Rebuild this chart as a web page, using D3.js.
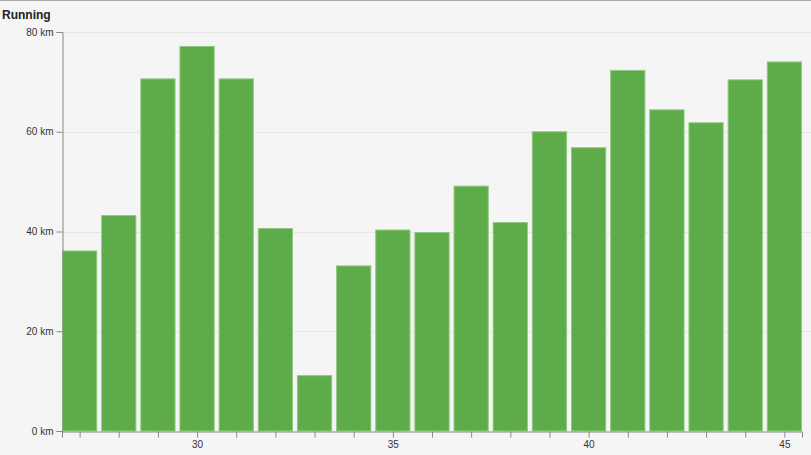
<!DOCTYPE html>
<html>
<head>
<meta charset="utf-8">
<script src="https://cdn.jsdelivr.net/npm/d3@7"></script>
<style>
  html, body { margin: 0; padding: 0; background: #f5f5f5; }
  svg { display: block; }
</style>
</head>
<body>
<script>
const weeks = [27,28,29,30,31,32,33,34,35,36,37,38,39,40,41,42,43,44,45];
const distances = [36.2,43.3,70.7,77.2,70.7,40.7,11.2,33.2,40.4,39.9,49.2,41.9,60.1,56.9,72.4,64.5,61.9,70.5,74.1];
const yTicks = [0,20,40,60,80];
const xLabelWeeks = [30,35,40,45];

(function () {
const W = 811, H = 455;
const svg = d3.select("body").append("svg").attr("width", W).attr("height", H);

svg.append("rect").attr("x",0).attr("y",0).attr("width",W).attr("height",H).attr("fill","#f5f5f5");
svg.append("line").attr("x1",0).attr("x2",W).attr("y1",0.5).attr("y2",0.5).attr("stroke","#aaa");

const mLeft = 62, mRight = 802, mTop = 32, mBottom = 431;
const x = d3.scaleLinear().domain([d3.min(weeks)-0.45, d3.max(weeks)+0.45]).range([mLeft, mRight]);
const y = d3.scaleLinear().domain([0, 80]).range([mBottom, mTop]);

// faint grid
svg.append("g").selectAll("line").data(yTicks.filter(d => d > 0)).join("line")
  .attr("x1", mLeft).attr("x2", W)
  .attr("y1", d => Math.round(y(d)) + 0.5).attr("y2", d => Math.round(y(d)) + 0.5)
  .attr("stroke", "#e6e6e6");

svg.append("text").attr("x", 2).attr("y", 19)
  .attr("font-family", "Liberation Sans, Arial, sans-serif")
  .attr("font-weight", "bold").attr("font-size", 12).attr("fill", "#222")
  .text("Running");

const bw = x(1) - x(0);
svg.append("g").selectAll("rect").data(weeks).join("rect")
  .attr("x", (d) => x(d - 0.45) + 0.5)
  .attr("width", bw * 0.9 - 1)
  .attr("y", (d, i) => y(distances[i]) + 0.5)
  .attr("height", (d, i) => y(0) - y(distances[i]) - 0.5)
  .attr("fill", "#5eab49")
  .attr("stroke", "#92c982")
  .attr("stroke-width", 1);

const yAxis = d3.axisLeft(y).tickValues(yTicks).tickFormat(d => d + " km").tickSize(6).tickPadding(3);
const gy = svg.append("g").attr("transform", `translate(${mLeft + 0.5},0)`).call(yAxis);

const xAxis = d3.axisBottom(x).tickValues(weeks)
  .tickFormat(d => xLabelWeeks.includes(d) ? String(d) : "").tickSize(6).tickPadding(3);
const gx = svg.append("g").attr("transform", `translate(0,${mBottom + 0.5})`).call(xAxis);

[gx, gy].forEach(g => {
  g.selectAll("path, line").attr("stroke", "#888");
  g.selectAll("text").attr("fill", "#333").attr("font-size", 10)
    .attr("font-family", "Liberation Sans, Arial, sans-serif");
});
})();
</script>
</body>
</html>
